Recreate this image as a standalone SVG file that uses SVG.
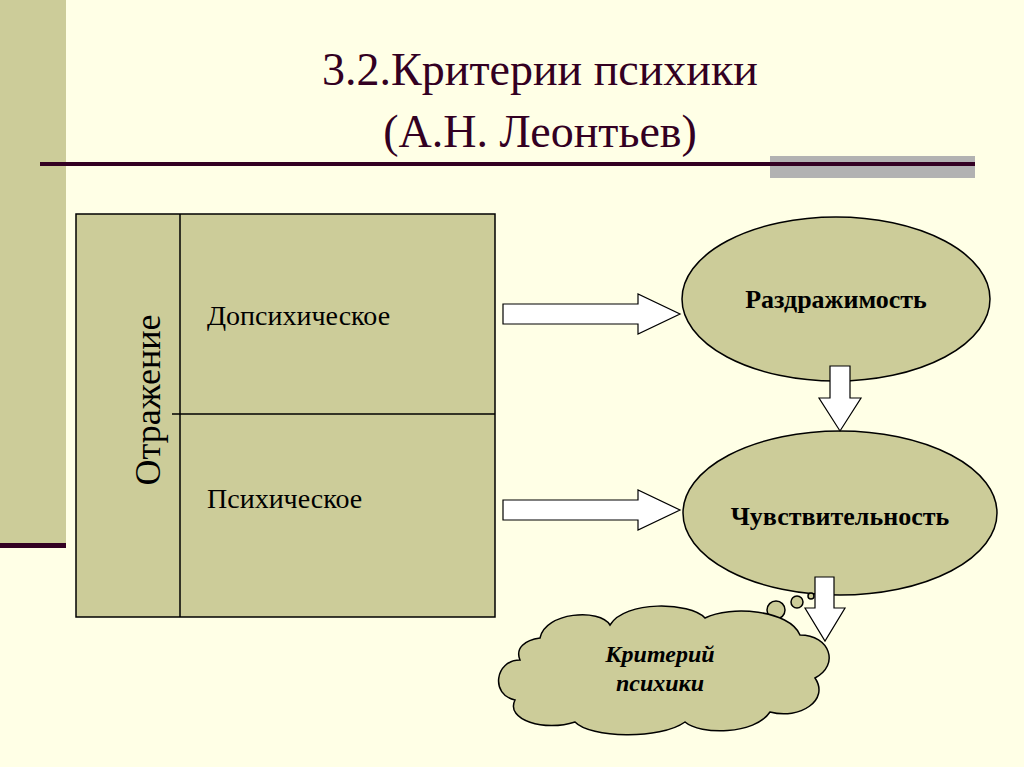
<svg xmlns="http://www.w3.org/2000/svg" width="1024" height="767" viewBox="0 0 1024 767" font-family="'Liberation Serif', 'Times New Roman', 'DejaVu Serif', serif">
<defs>
<style>
.f{fill:#CCCC99;stroke:#000;stroke-width:1.5}
.ar{fill:#fff;stroke:#000;stroke-width:1.2}
text{font-family:'Liberation Serif','Times New Roman','DejaVu Serif',serif;fill:#000}
.b{font-weight:bold}
</style>
</defs>
<rect width="1024" height="767" fill="#FFFFE6"/>
<rect x="0" y="0" width="66" height="545" fill="#CCCC99"/>
<rect x="0" y="543" width="66" height="5" fill="#330022"/>
<rect x="770" y="156" width="205" height="22" fill="#B2B2B2"/>
<rect x="40" y="162" width="935" height="4" fill="#330022"/>
<text x="540" y="85" font-size="46" text-anchor="middle" style="fill:#330022">3.2.Критерии психики</text>
<text x="540" y="147" font-size="46" text-anchor="middle" style="fill:#330022">(А.Н. Леонтьев)</text>
<g id="table">
<rect class="f" x="76" y="214" width="419" height="403"/>
<line x1="180" y1="214" x2="180" y2="617" stroke="#000" stroke-width="1.5"/>
<line x1="172" y1="414" x2="495" y2="414" stroke="#000" stroke-width="1.5"/>
<text transform="translate(160,400) rotate(-90)" font-size="36" text-anchor="middle">Отражение</text>
<text x="207" y="325" font-size="28">Допсихическое</text>
<text x="207" y="508" font-size="28">Психическое</text>
</g>
<g id="n1">
<ellipse class="f" cx="836" cy="299" rx="154" ry="82"/>
<text class="b" x="836" y="308" font-size="26" text-anchor="middle">Раздражимость</text>
</g>
<g id="n2">
<ellipse class="f" cx="840" cy="513" rx="157" ry="82"/>
<text class="b" x="840" y="525" font-size="26" text-anchor="middle">Чувствительность</text>
</g>
<g id="connectors">
<path class="ar" d="M503,304 H638 V294 L680,314 L638,334 V324 H503 Z"/>
<path class="ar" d="M503,500 H638 V490 L680,510 L638,530 V520 H503 Z"/>
<path class="ar" d="M830,366 H850 V398 H861 L840,431 L819,398 H830 Z"/>
<path class="ar" d="M815,577 H834 V608 H845 L825,641 L805,608 H815 Z"/>
<circle class="f" cx="776" cy="610" r="9" stroke-width="1"/>
<circle class="f" cx="797" cy="602" r="6" stroke-width="1"/>
<circle class="f" cx="811" cy="596" r="3" stroke-width="1"/>
</g>
<g id="cloud">
<path class="f" d="M540,638 C545,612 600,608 610,625 C625,600 690,602 705,618 C730,605 790,610 800,635 C830,635 840,665 815,678 C830,700 800,720 770,712 C755,735 700,735 685,722 C660,740 590,738 575,722 C545,732 505,720 515,700 C490,695 495,660 520,660 C515,648 525,640 540,638 Z"/>
<text class="b" x="660" y="662" font-size="24" font-style="italic" text-anchor="middle">Критерий</text>
<text class="b" x="660" y="691" font-size="24" font-style="italic" text-anchor="middle">психики</text>
</g>
</svg>
